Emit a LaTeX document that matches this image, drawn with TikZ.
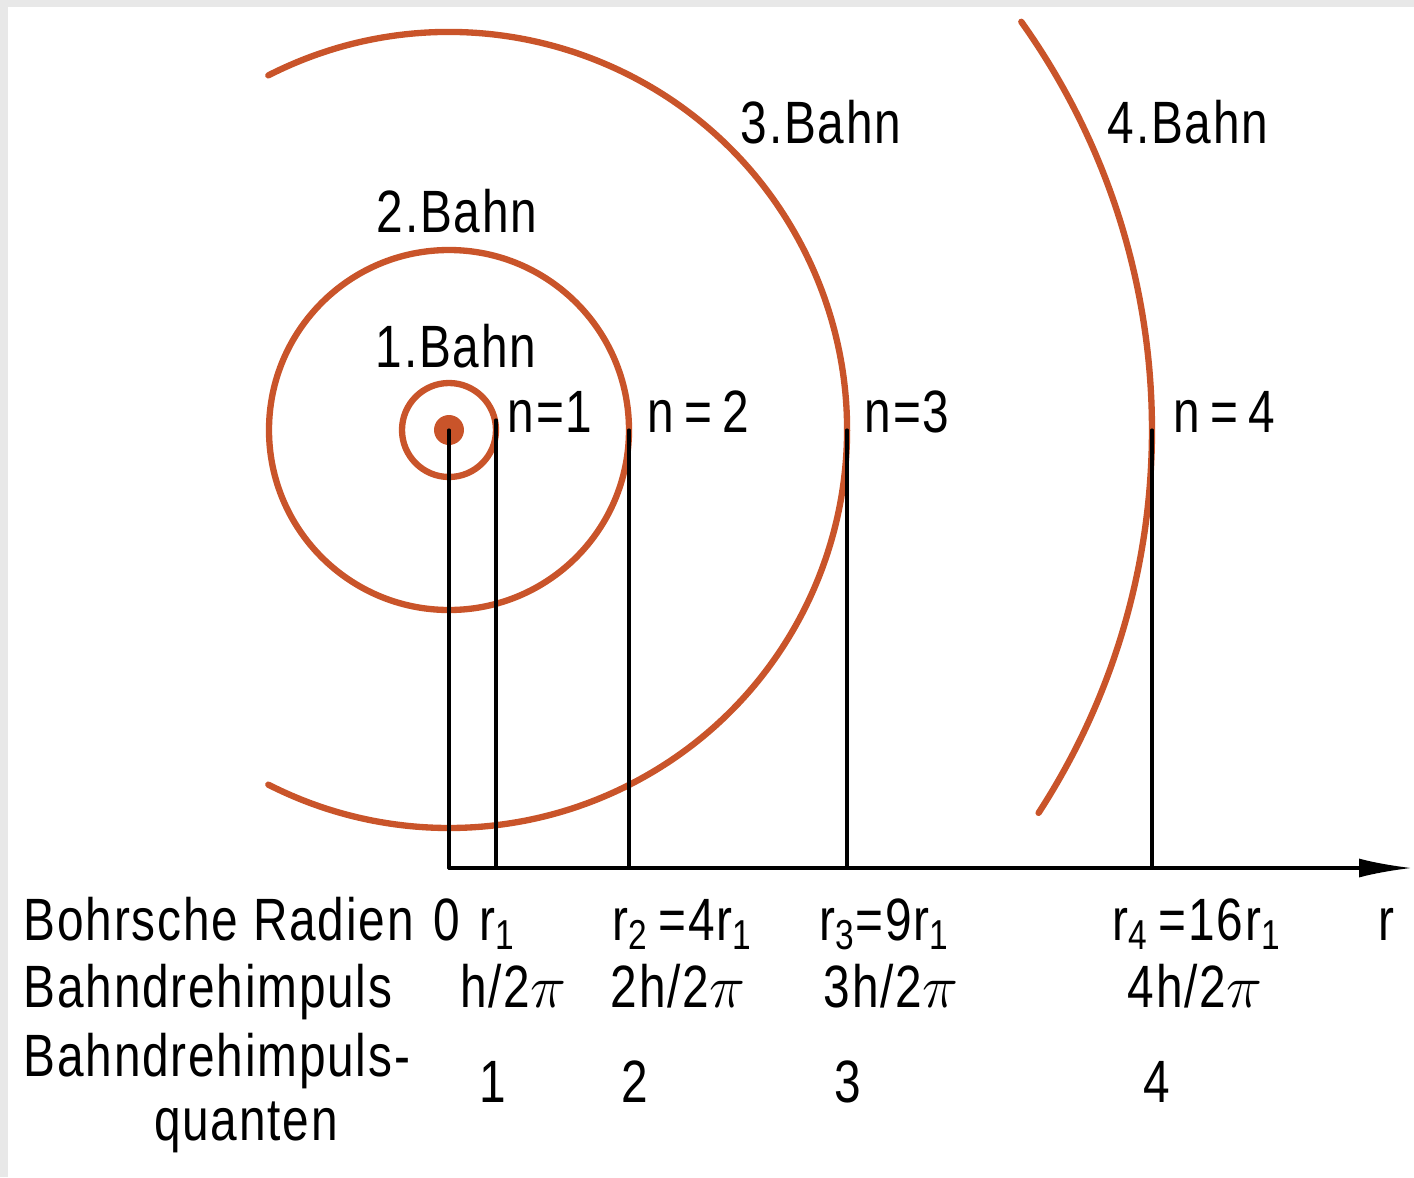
\documentclass[tikz,border=0pt]{standalone}
\usepackage{fontspec}
\setmainfont{Liberation Sans}[FakeStretch=0.8,LetterSpace=3]
\usepackage{tikz}
\usetikzlibrary{arrows.meta}
\usepackage{xcolor}
\definecolor{bahnrot}{RGB}{201,84,42}
\newcommand{\rsub}[1]{r\textsubscript{#1}}

\begin{document}
\begin{tikzpicture}[>={Latex[length=5.3mm,width=1.9mm]},font=\fontsize{17}{20}\selectfont,line cap=round,
  bahn/.style={bahnrot,line width=1.8pt},
  lot/.style={black,line width=0.9pt},
  txt/.style={inner sep=0pt,anchor=base}]
\useasboundingbox (-4.49,-7.47) rectangle (9.65,4.30);
\fill[black!9] (-4.49,4.23) rectangle (9.65,4.30);
\fill[black!9] (-4.49,-7.47) rectangle (-4.41,4.30);
% Kern und Bahnen
\coordinate (kern) at (0,0);
\fill[bahnrot] (kern) circle (0.15);
\draw[bahn] (kern) circle (0.47);
\draw[bahn] (kern) circle (1.80);
\draw[bahn] (117:3.98) arc[start angle=117,end angle=-117,radius=3.98];
\draw[bahn] (35.5:7.03) arc[start angle=35.5,end angle=-33,radius=7.03];
% Lote auf die r-Achse
\coordinate (p1) at (0.47,0.1);
\coordinate (p2) at (1.80,0);
\coordinate (p3) at (3.98,0);
\coordinate (p4) at (7.03,0);
\coordinate (f0) at (0,-4.38);
\coordinate (f1) at (0.47,-4.38);
\coordinate (f2) at (1.80,-4.38);
\coordinate (f3) at (3.98,-4.38);
\coordinate (f4) at (7.03,-4.38);
\coordinate (achse) at (9.63,-4.38);
\draw[lot] (kern) -- (f0);
\draw[lot] (p1) -- (f1);
\draw[lot] (p2) -- (f2);
\draw[lot] (p3) -- (f3);
\draw[lot] (p4) -- (f4);
\draw[lot,->] (f0) -- (achse);
% Bahnbezeichnungen
\node[txt] (b1) at (0.07,0.63) {1.Bahn};
\node[txt] (b2) at (0.08,1.98) {2.Bahn};
\node[txt] (b3) at (3.72,2.87) {3.Bahn};
\node[txt] (b4) at (7.39,2.87) {4.Bahn};
\node[txt,anchor=base west] (n1) at (0.58,-0.02) {n=1};
\node[txt,anchor=base west] (n2) at (1.98,-0.02) {n\,=\,2};
\node[txt,anchor=base west] (n3) at (4.15,-0.02) {n=3};
\node[txt,anchor=base west] (n4) at (7.24,-0.02) {n\,=\,4};
% Tabelle unter der Achse
\node[txt,anchor=base west] (radien) at (-4.26,-5.10) {Bohrsche Radien};
\node[txt] (r0) at (-0.02,-5.10) {0};
\node[txt] (r1) at (0.49,-5.10) {\rsub{1}};
\node[txt] (r2) at (2.34,-5.10) {\rsub{2}\,=4\rsub{1}};
\node[txt] (r3) at (4.36,-5.10) {\rsub{3}=9\rsub{1}};
\node[txt] (r4) at (7.48,-5.10) {\rsub{4}\,=16\rsub{1}};
\node[txt] (rr) at (9.37,-5.10) {r};
\node[txt,anchor=base west] (impuls) at (-4.26,-5.77) {Bahndrehimpuls};
\node[txt] (l1) at (0.64,-5.77) {h/2$\pi$};
\node[txt] (l2) at (2.29,-5.77) {2h/2$\pi$};
\node[txt] (l3) at (4.42,-5.77) {3h/2$\pi$};
\node[txt] (l4) at (7.46,-5.77) {4h/2$\pi$};
\node[txt,anchor=base west] (quanten) at (-4.26,-6.46) {Bahndrehimpuls-};
\node[txt] (quanten2) at (-2.03,-7.10) {quanten};
\node[txt] (q1) at (0.44,-6.72) {1};
\node[txt] (q2) at (1.86,-6.72) {2};
\node[txt] (q3) at (3.99,-6.72) {3};
\node[txt] (q4) at (7.08,-6.72) {4};
\end{tikzpicture}
\end{document}
